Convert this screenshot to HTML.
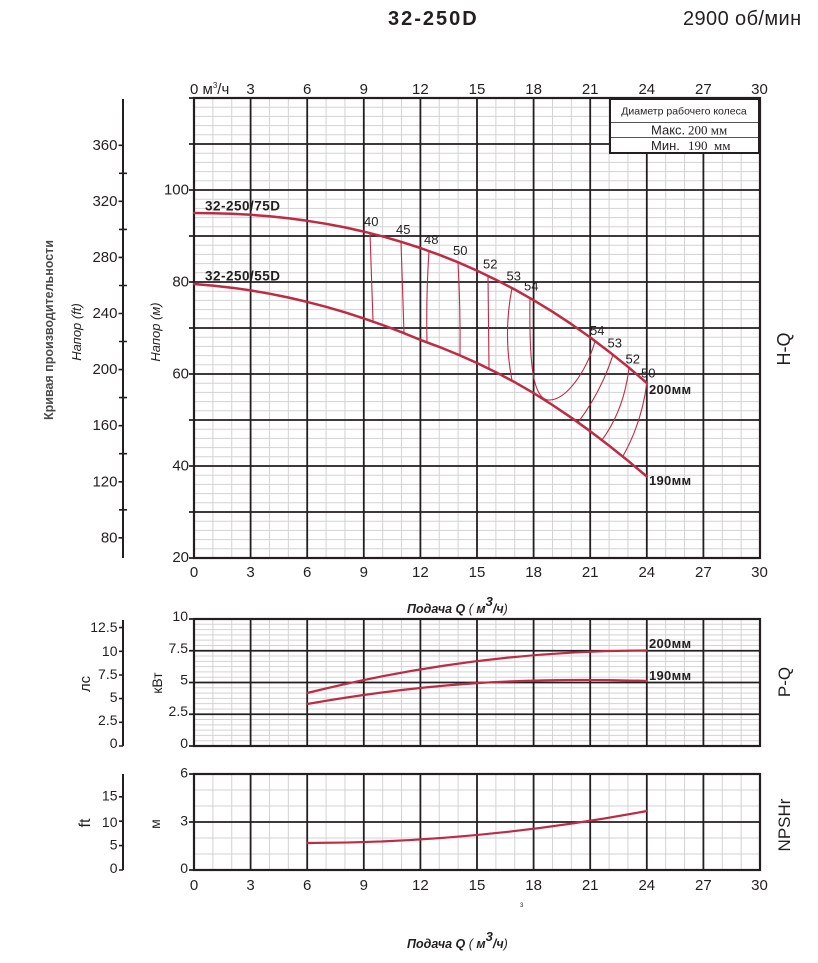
<!DOCTYPE html>
<html><head><meta charset="utf-8"><style>
html,body{margin:0;padding:0;background:#fff;}
svg{display:block;}
text{font-family:"Liberation Sans","Noto Sans CJK SC",sans-serif;fill:#231f20;}
</style></head><body>
<svg width="818" height="963" viewBox="0 0 818 963" xmlns="http://www.w3.org/2000/svg">
<rect width="818" height="963" fill="#fff"/>
<!-- Title -->
<text x="388" y="25" font-size="20" font-weight="bold" letter-spacing="2">32-250D</text>
<text x="683" y="25" font-size="20" letter-spacing="0.4">2900 об/мин</text>

<!-- ===== MAIN H-Q CHART ===== -->
<g stroke="#d3d3d3" stroke-width="1" fill="none">
<path d="M212.87 98v460m18.867-460v460m18.867-460v460m18.867-460v460m18.867-460v460m18.867-460v460m18.867-460v460m18.867-460v460m18.867-460v460m18.867-460v460m18.867-460v460m18.867-460v460m18.867-460v460m18.867-460v460m18.867-460v460m18.867-460v460m18.867-460v460m18.867-460v460m18.867-460v460m18.867-460v460m18.867-460v460m18.867-460v460m18.867-460v460m18.867-460v460m18.867-460v460m18.867-460v460m18.867-460v460m18.867-460v460m18.867-460v460"/>
<path d="M194 548.8h566m-566-9.2h566m-566-9.2h566m-566-9.2h566m-566-9.2h566m-566-9.2h566m-566-9.2h566m-566-9.2h566m-566-9.2h566m-566-9.2h566m-566-9.2h566m-566-9.2h566m-566-9.2h566m-566-9.2h566m-566-9.2h566m-566-9.2h566m-566-9.2h566m-566-9.2h566m-566-9.2h566m-566-9.2h566m-566-9.2h566m-566-9.2h566m-566-9.2h566m-566-9.2h566m-566-9.2h566m-566-9.2h566m-566-9.2h566m-566-9.2h566m-566-9.2h566m-566-9.2h566m-566-9.2h566m-566-9.2h566m-566-9.2h566m-566-9.2h566m-566-9.2h566m-566-9.2h566m-566-9.2h566m-566-9.2h566m-566-9.2h566m-566-9.2h566m-566-9.2h566m-566-9.2h566m-566-9.2h566m-566-9.2h566m-566-9.2h566m-566-9.2h566m-566-9.2h566m-566-9.2h566m-566-9.2h566"/>
</g>
<g stroke="#231f20" stroke-width="1.8" fill="none">
<path d="M250.6 98V558M307.2 98V558M363.8 98V558M420.4 98V558M477 98V558M533.6 98V558M590.2 98V558M646.8 98V558M703.4 98V558"/>
<path d="M189 512H760M189 466H760M189 420H760M189 374H760M189 328H760M189 282H760M189 236H760M189 190H760M189 144H760M189 558H194M189 98H194"/>
<rect x="194" y="98" width="566" height="460" stroke-width="2.2"/>
</g>

<!-- legend box -->
<rect x="610" y="99" width="149" height="54" fill="#fff" stroke="#231f20" stroke-width="2"/>
<path d="M611 122.5H758M611 137.5H758" stroke="#555" stroke-width="1"/>
<text x="684" y="114.5" font-size="10.5" text-anchor="middle">Диаметр рабочего колеса</text>
<text x="651" y="134.5" font-size="13">Макс.</text>
<text x="688" y="134.5" font-size="13" style="font-family:'Liberation Serif',serif">200 мм</text>
<text x="651" y="150" font-size="13">Мин.</text>
<text x="688" y="150" font-size="13" style="font-family:'Liberation Serif',serif">190&#160; мм</text>

<!-- top x labels -->
<g font-size="15" text-anchor="middle">
<text x="190" y="94" text-anchor="start">0 м<tspan font-size="8" dy="-6">3</tspan><tspan dy="6">/ч</tspan></text>
<text x="250.6" y="94">3</text><text x="307.2" y="94">6</text><text x="363.8" y="94">9</text><text x="420.4" y="94">12</text><text x="477" y="94">15</text><text x="533.6" y="94">18</text><text x="590.2" y="94">21</text><text x="646.8" y="94">24</text><text x="703.4" y="94">27</text><text x="759.5" y="94">30</text>
</g>
<!-- bottom x labels main -->
<g font-size="15" text-anchor="middle">
<text x="194" y="577">0</text><text x="250.6" y="577">3</text><text x="307.2" y="577">6</text><text x="363.8" y="577">9</text><text x="420.4" y="577">12</text><text x="477" y="577">15</text><text x="533.6" y="577">18</text><text x="590.2" y="577">21</text><text x="646.8" y="577">24</text><text x="703.4" y="577">27</text><text x="759.5" y="577">30</text>
</g>
<!-- left H (m) labels -->
<g font-size="15" text-anchor="end">
<text x="189" y="194.5">100</text><text x="189" y="286.5">80</text><text x="189" y="378.5">60</text><text x="189" y="470.5">40</text><text x="189" y="562">20</text>
</g>
<!-- ft axis -->
<g stroke="#231f20" fill="none">
<path d="M123 99V558" stroke-width="2"/>
<path d="M118.5 537.8H123M118.5 481.8H123M118.5 425.7H123M118.5 369.6H123M118.5 313.5H123M118.5 257.4H123M118.5 201.3H123M118.5 145.3H123" stroke-width="1.6"/>
<path d="M119 509.8H127M119 453.7H127M119 397.6H127M119 341.5H127M119 285.5H127M119 229.4H127M119 173.3H127" stroke-width="1.6"/>
</g>
<g font-size="15" text-anchor="end">
<text x="117.5" y="149.8">360</text><text x="117.5" y="205.8">320</text><text x="117.5" y="261.9">280</text><text x="117.5" y="318">240</text><text x="117.5" y="374.1">200</text><text x="117.5" y="430.2">160</text><text x="117.5" y="486.3">120</text><text x="117.5" y="542.3">80</text>
</g>
<!-- rotated axis titles -->
<text transform="translate(53,330) rotate(-90)" font-size="12.5" font-weight="bold" text-anchor="middle" style="fill:#4a4a4a">Кривая производительности</text>
<text transform="translate(81,332) rotate(-90)" font-size="13" font-style="italic" text-anchor="middle">Напор (ft)</text>
<text transform="translate(160,332) rotate(-90)" font-size="13" font-style="italic" text-anchor="middle">Напор (м)</text>
<text transform="translate(790,349) rotate(-90)" font-size="18" text-anchor="middle">H-Q</text>

<!-- curves -->
<g fill="none" stroke="#bd2b45" stroke-linejoin="round" stroke-linecap="round">
<polyline stroke-width="2.5" points="194,213 212.87,213.2 231.73,213.8 250.6,214.8 269.47,216.3 288.33,218.3 307.2,220.8 326.07,223.8 344.93,227.4 363.8,231.6 382.67,236.4 401.53,241.9 420.4,248 439.27,254.8 458.13,262.3 477,270.6 495.87,279.7 514.73,289.5 533.6,300.2 552.47,311.7 571.33,324.1 590.2,337.4 609.07,351.7 627.93,366.8 646.8,383"/>
<polyline stroke-width="2.5" points="194,284 212.87,285.6 231.73,287.7 250.6,290.4 269.47,293.7 288.33,297.5 307.2,301.9 326.07,306.8 344.93,312.3 363.8,318.4 382.67,325 401.53,332.2 420.4,339.9 439.27,346.9 458.13,354.6 477,363 495.87,372.2 514.73,382.2 533.6,393.1 552.47,405 571.33,417.7 590.2,431.2 609.07,445.6 627.93,460.7 646.8,476.5"/>
<g stroke-width="1.1">
<path d="M370 233.2Q371.5 277 373 321"/>
<path d="M401 241.9Q402.5 287 404 333"/>
<path d="M429 251Q426 296 427 342"/>
<path d="M458 262Q460.5 308 460 355"/>
<path d="M488 276Q488.5 322 489 368.5"/>
<path d="M512 288Q503 334 512 380.5"/>
<path d="M530 298C529 365 533 398 548 400C566 401 586 372 595 341.5"/>
<path d="M613 354.7Q601 392 578 422.5"/>
<path d="M629 367.8Q624 410 602 440"/>
<path d="M646.8 383Q642 422 623 456"/>
</g>
</g>
<!-- efficiency labels -->
<g font-size="13">
<text x="364" y="226">40</text><text x="396" y="234">45</text><text x="424" y="244">48</text><text x="453" y="255">50</text><text x="483" y="268.5">52</text><text x="506.5" y="280.5">53</text><text x="524" y="290.5">54</text>
<text x="590" y="335">54</text><text x="607.5" y="347.5">53</text><text x="625.5" y="363.5">52</text><text x="641" y="377.5">50</text>
</g>
<g font-size="13.5" font-weight="bold" letter-spacing="0.5">
<text x="205" y="210.5">32-250/75D</text>
<text x="205" y="280.5">32-250/55D</text>
</g>
<g font-size="13" font-weight="bold" letter-spacing="0.3">
<text x="649" y="394">200мм</text>
<text x="649" y="485">190мм</text>
</g>

<!-- Подача Q label 1 -->
<text x="407" y="613" font-size="12.5" font-weight="bold" font-style="italic">Подача Q <tspan font-weight="normal">(</tspan> м<tspan font-size="13" dy="-7">3</tspan><tspan dy="7">/ч</tspan><tspan font-weight="normal">)</tspan></text>

<!-- ===== P-Q CHART ===== -->
<g stroke="#d3d3d3" stroke-width="1" fill="none">
<path d="M212.87 619v127m18.867-127v127m18.867-127v127m18.867-127v127m18.867-127v127m18.867-127v127m18.867-127v127m18.867-127v127m18.867-127v127m18.867-127v127m18.867-127v127m18.867-127v127m18.867-127v127m18.867-127v127m18.867-127v127m18.867-127v127m18.867-127v127m18.867-127v127m18.867-127v127m18.867-127v127m18.867-127v127m18.867-127v127m18.867-127v127m18.867-127v127m18.867-127v127m18.867-127v127m18.867-127v127m18.867-127v127m18.867-127v127"/>
<path d="M194 740.71h566m-566-5.2917h566m-566-5.2917h566m-566-5.2917h566m-566-5.2917h566m-566-5.2917h566m-566-5.2917h566m-566-5.2917h566m-566-5.2917h566m-566-5.2917h566m-566-5.2917h566m-566-5.2917h566m-566-5.2917h566m-566-5.2917h566m-566-5.2917h566m-566-5.2917h566m-566-5.2917h566m-566-5.2917h566m-566-5.2917h566m-566-5.2917h566m-566-5.2917h566m-566-5.2917h566m-566-5.2917h566"/>
</g>
<g stroke="#231f20" stroke-width="1.8" fill="none">
<path d="M250.6 619V746M307.2 619V746M363.8 619V746M420.4 619V746M477 619V746M533.6 619V746M590.2 619V746M646.8 619V746M703.4 619V746"/>
<path d="M189 714.25H760M189 682.5H760M189 650.75H760M189 619H194M189 746H194"/>
<rect x="194" y="619" width="566" height="127" stroke-width="2.2"/>
<path d="M123 620V746" stroke-width="2"/>
<path d="M119 746H123M119 722.3H123M119 698.6H123M119 675H123M119 651.3H123M119 627.6H123" stroke-width="1.6"/>
</g>
<g font-size="14" text-anchor="end">
<text x="188" y="621">10</text><text x="188" y="653">7.5</text><text x="188" y="684.5">5</text><text x="188" y="716">2.5</text><text x="188" y="748">0</text>
<text x="117.5" y="632">12.5</text><text x="117.5" y="656">10</text><text x="117.5" y="679">7.5</text><text x="117.5" y="702">5</text><text x="117.5" y="725">2.5</text><text x="117.5" y="748">0</text>
</g>
<text transform="translate(90,684) rotate(-90)" font-size="15" text-anchor="middle">лс</text>
<text transform="translate(162,683) rotate(-90)" font-size="14" text-anchor="middle">кВт</text>
<text transform="translate(790,682) rotate(-90)" font-size="17" text-anchor="middle">P-Q</text>
<g fill="none" stroke="#bd2b45" stroke-width="2.2" stroke-linecap="round">
<path d="M307.2 693Q477 650.5 646.8 650.5"/>
<path d="M307.2 704C420 684 520 677 646.8 681"/>
</g>
<g font-size="13" font-weight="bold" letter-spacing="0.3">
<text x="649" y="648">200мм</text>
<text x="649" y="680">190мм</text>
</g>

<!-- ===== NPSH CHART ===== -->
<g stroke="#d3d3d3" stroke-width="1" fill="none">
<path d="M212.87 774v96m18.867-96v96m18.867-96v96m18.867-96v96m18.867-96v96m18.867-96v96m18.867-96v96m18.867-96v96m18.867-96v96m18.867-96v96m18.867-96v96m18.867-96v96m18.867-96v96m18.867-96v96m18.867-96v96m18.867-96v96m18.867-96v96m18.867-96v96m18.867-96v96m18.867-96v96m18.867-96v96m18.867-96v96m18.867-96v96m18.867-96v96m18.867-96v96m18.867-96v96m18.867-96v96m18.867-96v96m18.867-96v96"/>
<path d="M194 854H760M194 838H760M194 806H760M194 790H760"/>
</g>
<g stroke="#231f20" stroke-width="1.8" fill="none">
<path d="M250.6 774V870M307.2 774V870M363.8 774V870M420.4 774V870M477 774V870M533.6 774V870M590.2 774V870M646.8 774V870M703.4 774V870"/>
<path d="M189 822H760M189 774H194M189 870H194"/>
<rect x="194" y="774" width="566" height="96" stroke-width="2.2"/>
<path d="M123 774V870" stroke-width="2"/>
<path d="M119 870H123M119 845.6H123M119 821.2H123M119 796.8H123" stroke-width="1.6"/>
</g>
<g font-size="14" text-anchor="end">
<text x="188" y="777.5">6</text><text x="188" y="825.5">3</text><text x="188" y="873">0</text>
<text x="117.5" y="800.5">15</text><text x="117.5" y="827">10</text><text x="117.5" y="849.5">5</text><text x="117.5" y="873">0</text>
</g>
<text transform="translate(90,823) rotate(-90)" font-size="16" text-anchor="middle">ft</text>
<text transform="translate(160,824) rotate(-90)" font-size="14" text-anchor="middle">м</text>
<text transform="translate(790,825) rotate(-90)" font-size="17" text-anchor="middle">NPSHr</text>
<path d="M307.2 843Q477 843 646.8 811" fill="none" stroke="#bd2b45" stroke-width="2.2" stroke-linecap="round"/>
<!-- bottom x labels -->
<g font-size="15" text-anchor="middle">
<text x="194" y="890">0</text><text x="250.6" y="890">3</text><text x="307.2" y="890">6</text><text x="363.8" y="890">9</text><text x="420.4" y="890">12</text><text x="477" y="890">15</text><text x="533.6" y="890">18</text><text x="590.2" y="890">21</text><text x="646.8" y="890">24</text><text x="703.4" y="890">27</text><text x="759.5" y="890">30</text>
</g>
<text x="520" y="907" font-size="6">3</text>
<text x="407" y="948" font-size="12.5" font-weight="bold" font-style="italic">Подача Q <tspan font-weight="normal">(</tspan> м<tspan font-size="13" dy="-7">3</tspan><tspan dy="7">/ч</tspan><tspan font-weight="normal">)</tspan></text>
</svg>
</body></html>
